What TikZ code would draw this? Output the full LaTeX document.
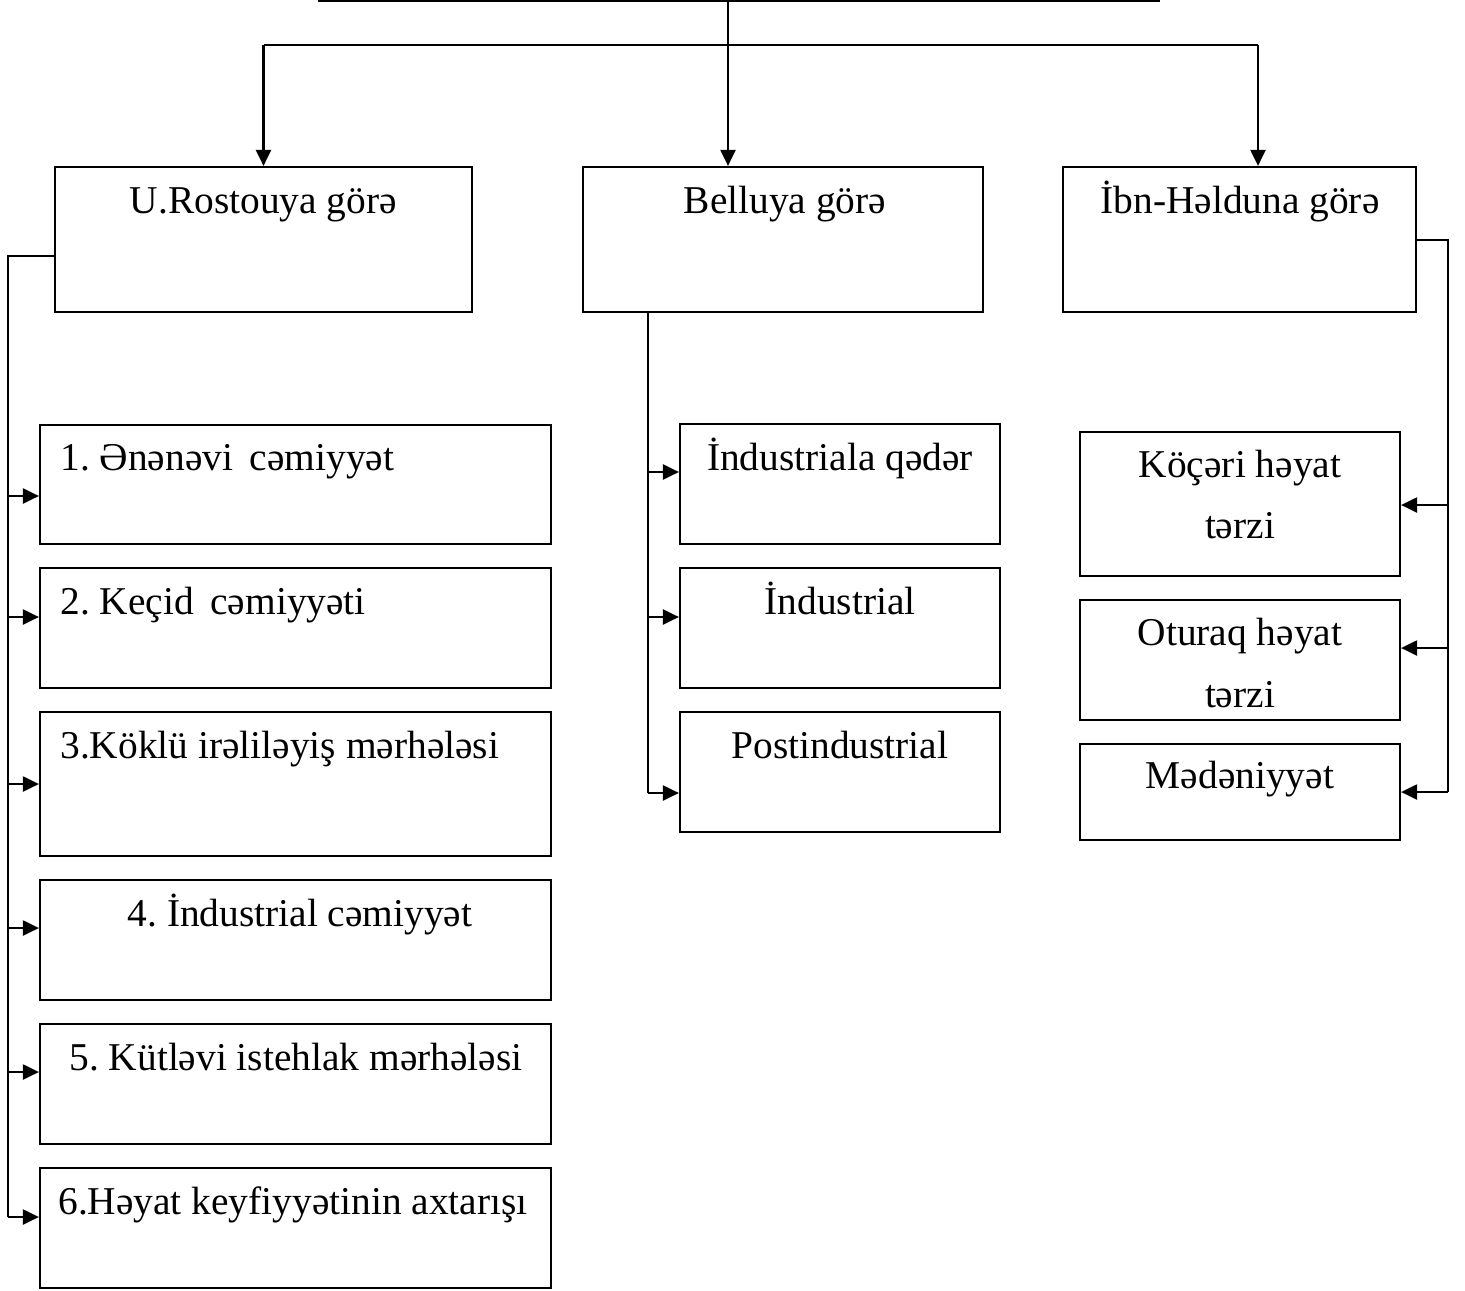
\documentclass[tikz,border=0pt]{standalone}
\usepackage{fontspec}
\setmainfont{Liberation Serif}
\usetikzlibrary{arrows.meta,fit}
\frenchspacing
\begin{document}
\begin{tikzpicture}[x=0.5pt,y=-0.5pt,
  box/.style={draw,line width=1.1pt,inner sep=0pt,rectangle},
  ln/.style={line width=1.1pt},
  arr/.style={line width=1.1pt,-{Triangle[length=8pt,width=7.5pt]}},
  txt/.style={font=\fontsize{19.7}{24}\selectfont,inner sep=0pt,anchor=base}]
\useasboundingbox (0,0) rectangle (1465,1290);
% boxes
\node[box,fit={(55,167) (472,312)}] (r0) {};
\node[box,fit={(583,167) (983,312)}] (b0) {};
\node[box,fit={(1063,167) (1416,312)}] (h0) {};
\node[box,fit={(40,425) (551,544)}] (r1) {};
\node[box,fit={(40,568) (551,688)}] (r2) {};
\node[box,fit={(40,712) (551,856)}] (r3) {};
\node[box,fit={(40,880) (551,1000)}] (r4) {};
\node[box,fit={(40,1024) (551,1144)}] (r5) {};
\node[box,fit={(40,1168) (551,1288)}] (r6) {};
\node[box,fit={(680,424) (1000,544)}] (b1) {};
\node[box,fit={(680,568) (1000,688)}] (b2) {};
\node[box,fit={(680,712) (1000,832)}] (b3) {};
\node[box,fit={(1080,432) (1400,576)}] (h1) {};
\node[box,fit={(1080,600) (1400,720)}] (h2) {};
\node[box,fit={(1080,744) (1400,840)}] (h3) {};
% texts
\node[txt] (t0) at (263.5,213) {U.Rostouya görə};
\node[txt] (tb0) at (785,213) {Belluya görə};
\node[txt] (th0) at (1240,213) {İbn-Həlduna görə};
\node[txt,anchor=base west] (t1) at (60,470) {1. Ənənəvi\hskip0.42em cəmiyyət};
\node[txt,anchor=base west] (t2) at (60,614) {2. Keçid\hskip0.42em cəmiyyəti};
\node[txt,anchor=base west] (t3) at (60,758) {3.Köklü irəliləyiş mərhələsi};
\node[txt] (t4) at (300,926) {4. İndustrial cəmiyyət};
\node[txt] (t5) at (296,1070) {5. Kütləvi istehlak mərhələsi};
\node[txt] (t6) at (293,1214) {6.Həyat keyfiyyətinin axtarışı};
\node[txt] (tb1) at (840,470) {İndustriala qədər};
\node[txt] (tb2) at (840,614) {İndustrial};
\node[txt] (tb3) at (840,758) {Postindustrial};
\node[txt] (th1a) at (1240,477) {Köçəri həyat};
\node[txt] (th1b) at (1240,538) {tərzi};
\node[txt] (th2a) at (1240,645) {Oturaq həyat};
\node[txt] (th2b) at (1240,707) {tərzi};
\node[txt] (th3) at (1240,788) {Mədəniyyət};
% top connectors
\coordinate (topL) at (318,1);
\coordinate (topR) at (1160,1);
\coordinate (topM) at (728,1);
\coordinate (busM) at (728,45);
\coordinate (busL) at (263.5,45);
\coordinate (busR) at (1258,45);
\draw[ln] (topL) -- (topR);
\draw[ln] (topM) -- (busM);
\draw[ln] (busL) -- (busR);
\draw[arr] (busL) -- (r0.north);
\draw[arr] (busM) -- (busM |- b0.north);
\draw[arr] (busR) -- (busR |- h0.north);
% left branch
\coordinate (lt) at (8,256);
\coordinate (lb) at (8,1217);
\coordinate (l1) at (8,496);
\coordinate (l2) at (8,617);
\coordinate (l3) at (8,784);
\coordinate (l4) at (8,928);
\coordinate (l5) at (8,1072);
\draw[ln] (r0.west |- lt) -- (lt) -- (lb);
\draw[arr] (l1) -- (r1.west |- l1);
\draw[arr] (l2) -- (r2.west |- l2);
\draw[arr] (l3) -- (r3.west |- l3);
\draw[arr] (l4) -- (r4.west |- l4);
\draw[arr] (l5) -- (r5.west |- l5);
\draw[arr] (lb) -- (r6.west |- lb);
% middle branch
\coordinate (mt) at (648,312);
\coordinate (m1) at (648,472);
\coordinate (m2) at (648,617);
\coordinate (mb) at (648,793);
\draw[ln] (b0.south -| mt) -- (mb);
\draw[arr] (m1) -- (b1.west |- m1);
\draw[arr] (m2) -- (b2.west |- m2);
\draw[arr] (mb) -- (b3.west |- mb);
% right branch
\coordinate (rt) at (1448,240);
\coordinate (r1c) at (1448,505);
\coordinate (r2c) at (1448,648);
\coordinate (rb) at (1448,792);
\draw[ln] (h0.east |- rt) -- (rt) -- (rb);
\draw[arr] (r1c) -- (h1.east |- r1c);
\draw[arr] (r2c) -- (h2.east |- r2c);
\draw[arr] (rb) -- (h3.east |- rb);
\end{tikzpicture}
\end{document}
